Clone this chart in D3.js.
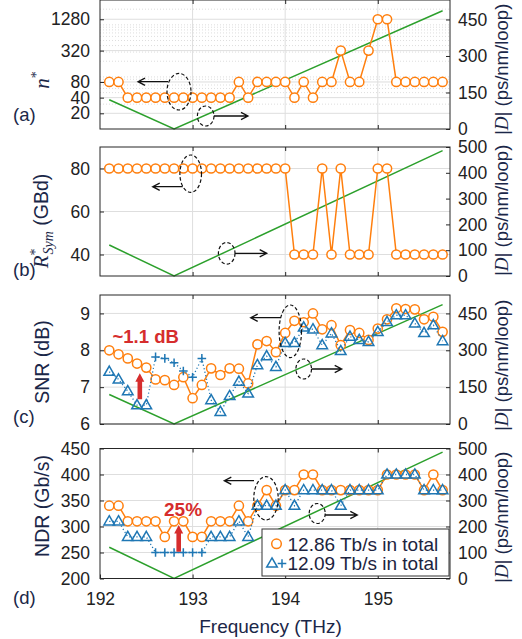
<!DOCTYPE html>
<html>
<head>
<meta charset="utf-8">
<script src="https://cdn.jsdelivr.net/npm/d3@7/dist/d3.min.js"></script>
<style>
  body { margin: 0; background: #fff; }
  svg { display: block; }
  text { font-family: Arial, "Liberation Sans", sans-serif; }
</style>
</head>
<body>
<div id="viz"></div>
<script>
// channel frequencies (THz)
const freq = [192.1, 192.2, 192.3, 192.4, 192.5, 192.6, 192.7, 192.8, 192.9, 193.0,
  193.1, 193.2, 193.3, 193.4, 193.5, 193.6, 193.7, 193.8, 193.9, 194.0,
  194.1, 194.2, 194.3, 194.4, 194.5, 194.6, 194.7, 194.8, 194.9, 195.0,
  195.1, 195.2, 195.3, 195.4, 195.5, 195.6, 195.7];

// (a) optimum n*
const nStar = [80, 80, 40, 40, 40, 40, 40, 40, 40, 40, 40, 40, 40, 40, 80, 40, 80, 80, 80, 80,
  40, 80, 40, 80, 80, 320, 80, 80, 320, 1280, 1280, 80, 80, 80, 80, 80, 80];

// (b) optimum symbol rate (GBd)
const rSym = [80, 80, 80, 80, 80, 80, 80, 80, 80, 80, 80, 80, 80, 80, 80, 80, 80, 80, 80, 80,
  40, 40, 40, 80, 40, 80, 40, 40, 40, 80, 80, 40, 40, 40, 40, 40, 40];

// (c) SNR (dB)
const snrOrange = [8.00, 7.89, 7.78, 7.64, 7.53, 7.21, 7.19, 7.06, 7.27, 6.70,
  7.06, 7.51, 7.33, 7.51, 7.50, 7.10, 8.16, 8.25, 7.95, 8.47,
  8.80, 8.76, 9.00, 8.57, 8.68, 8.14, 8.55, 8.47, 8.28, 8.59,
  8.84, 9.14, 9.12, 9.11, 8.84, 8.91, 8.50];
const snrBlue = [7.42, 7.21, 6.89, 6.51, 6.51, 7.82, 7.78, 7.66, 7.44, 7.27,
  7.78, 6.65, 6.33, 6.76, 7.15, 6.83, 7.60, 7.84, 7.55, 8.20,
  8.20, 8.62, 8.57, 8.14, 8.46, 7.98, 8.37, 8.28, 8.23, 8.50,
  8.77, 8.95, 8.95, 8.73, 8.47, 8.68, 8.25];

// (d) NDR (Gb/s)
const ndrOrange = [340, 340, 310, 310, 310, 310, 280, 310, 310, 280,
  280, 310, 310, 310, 340, 310, 340, 370, 340, 370,
  370, 400, 400, 370, 370, 370, 370, 370, 370, 370,
  400, 400, 400, 400, 370, 400, 370];
const ndrBlue = [310, 310, 280, 280, 280, 250, 250, 250, 250, 250,
  250, 280, 280, 280, 310, 280, 340, 340, 340, 370,
  340, 370, 370, 370, 370, 340, 370, 370, 370, 370,
  400, 400, 400, 400, 370, 370, 370];
// channels of the blue series drawn with "+" instead of triangles
const plusFreq = [192.6, 192.7, 192.8, 192.9, 193.0, 193.1];

// |D| (ps/nm/loop), right axes
const dispFreq = [192.1, 192.8, 195.7];
const dispVal = [120, 0, 486];

const xTicks = [192, 193, 194, 195];
const legendLabels = ["12.86 Tb/s in total", "12.09 Tb/s in total"];

const orange = "#ff7f0e", blue = "#1f77b4", green = "#2ca02c", red = "#d62d2d",
  navy = "#1b2748", ink = "#222", gridCol = "#dedede";
const left = 100, right = 450;

const svg = d3.select("#viz").append("svg")
    .attr("width", 522)
    .attr("height", 639);

const x = d3.scaleLinear().domain([192, 195.78]).range([left, right]);

const panels = [
  { id: "a", top: 0, bottom: 129, log: true, lDom: [10, 3000], lTicks: [20, 40, 80, 320, 1280],
    minor: [30, 50, 60, 70, 90, 100, 200, 300, 400, 500, 600, 700, 800, 900, 1000, 2000],
    rDom: [0, 530], rTicks: [0, 150, 300, 450], tag: 121, rEnd: 135 },
  { id: "b", top: 147, bottom: 276, lDom: [30, 90], lTicks: [40, 60, 80],
    rDom: [0, 500], rTicks: [0, 100, 200, 300, 400, 500], tag: 276, rEnd: 276 },
  { id: "c", top: 295, bottom: 424, lDom: [6, 9.5], lTicks: [6, 7, 8, 9],
    rDom: [0, 525], rTicks: [0, 150, 300, 450], tag: 423, rEnd: 431 },
  { id: "d", top: 448.5, bottom: 578.5, lDom: [200, 450], lTicks: [200, 250, 300, 350, 400, 450],
    rDom: [0, 500], rTicks: [0, 100, 200, 300, 400, 500], tag: 603.5, rEnd: 583 }
];

panels.forEach(p => {
  p.yL = (p.log ? d3.scaleLog() : d3.scaleLinear()).domain(p.lDom).range([p.bottom, p.top]);
  p.yR = d3.scaleLinear().domain(p.rDom).range([p.bottom, p.top]);
});
const P = {};
panels.forEach(p => P[p.id] = p);

// grid + dispersion line
panels.forEach(p => {
  const g = svg.append("g");
  if (p.minor) {
    g.selectAll(null).data(p.minor).enter().append("line")
      .attr("x1", left).attr("x2", right)
      .attr("y1", d => p.yL(d)).attr("y2", d => p.yL(d))
      .attr("stroke", "#d4d4d4").attr("stroke-width", 0.8).attr("stroke-dasharray", "1,2");
  }
  g.selectAll(null).data(p.lTicks).enter().append("line")
    .attr("x1", left).attr("x2", right)
    .attr("y1", d => p.yL(d)).attr("y2", d => p.yL(d))
    .attr("stroke", gridCol).attr("stroke-width", 1);
  g.selectAll(null).data([193, 194, 195]).enter().append("line")
    .attr("x1", d => x(d)).attr("x2", d => x(d))
    .attr("y1", p.top).attr("y2", p.bottom)
    .attr("stroke", gridCol).attr("stroke-width", 1);

  const dl = d3.line().x(d => x(d[0])).y(d => p.yR(d[1]));
  g.append("path").datum(d3.zip(dispFreq, dispVal))
    .attr("d", dl).attr("fill", "none")
    .attr("stroke", green).attr("stroke-width", 1.5);
});

// orange series: solid line, white circles
function orangeSeries(p, vals) {
  const pts = d3.zip(freq, vals);
  const ln = d3.line().x(d => x(d[0])).y(d => p.yL(d[1]));
  svg.append("path").datum(pts).attr("d", ln)
    .attr("fill", "none").attr("stroke", orange).attr("stroke-width", 1.5);
  svg.append("g").selectAll("circle").data(pts).enter().append("circle")
    .attr("cx", d => x(d[0])).attr("cy", d => p.yL(d[1])).attr("r", 4.6)
    .attr("fill", "#fff").attr("stroke", orange).attr("stroke-width", 1.5);
}

function triPath(cx, cy) {
  return `M${cx},${cy - 5.6}L${cx + 5.3},${cy + 3.6}L${cx - 5.3},${cy + 3.6}Z`;
}
function plusPath(cx, cy) {
  return `M${cx - 4.3},${cy}H${cx + 4.3}M${cx},${cy - 4.3}V${cy + 4.3}`;
}

// blue series: dotted line, triangles and "+" markers
function blueSeries(p, vals) {
  const pts = d3.zip(freq, vals);
  const ln = d3.line().x(d => x(d[0])).y(d => p.yL(d[1]));
  svg.append("path").datum(pts).attr("d", ln)
    .attr("fill", "none").attr("stroke", blue).attr("stroke-width", 1.3)
    .attr("stroke-dasharray", "1.2,2.4");
  const isPlus = d => plusFreq.some(f => Math.abs(f - d[0]) < 1e-6);
  svg.append("g").selectAll("path").data(pts).enter().append("path")
    .attr("d", d => isPlus(d) ? plusPath(x(d[0]), p.yL(d[1])) : triPath(x(d[0]), p.yL(d[1])))
    .attr("fill", "none").attr("stroke", blue).attr("stroke-width", 1.5);
}

orangeSeries(P.a, nStar);
orangeSeries(P.b, rSym);
orangeSeries(P.c, snrOrange);
blueSeries(P.c, snrBlue);
orangeSeries(P.d, ndrOrange);
blueSeries(P.d, ndrBlue);

// dashed ellipses with arrows pointing to the axis they belong to
const ellipses = [
  [179, 91.7, 12, 18.3], [205.7, 116, 8.3, 10],
  [190.7, 173.7, 10.8, 18.7], [226.7, 253.3, 8.3, 10.8],
  [290.3, 331.3, 11.2, 26.3], [303.7, 369, 7.8, 10],
  [266, 498.3, 12.2, 21.7], [317.2, 513.5, 8, 10]
];
const arrows = [
  [168, 138, 81.7], [214, 248, 116],
  [182.7, 152.7, 186.7], [235, 266.7, 253.3],
  [281, 250.7, 317.7], [311.5, 341.7, 369],
  [254, 224.3, 480.7], [325, 357.3, 515]
];
const ann = svg.append("g");
ann.selectAll("ellipse").data(ellipses).enter().append("ellipse")
  .attr("cx", d => d[0]).attr("cy", d => d[1]).attr("rx", d => d[2]).attr("ry", d => d[3])
  .attr("fill", "none").attr("stroke", "#111").attr("stroke-width", 1.2)
  .attr("stroke-dasharray", "3.5,2.2");
ann.selectAll(".arr").data(arrows).enter().append("path")
  .attr("d", d => {
    const s = Math.sign(d[1] - d[0]);
    return `M${d[0]},${d[2]}H${d[1]}M${d[1] - s * 7},${d[2] - 3.6}L${d[1]},${d[2]}L${d[1] - s * 7},${d[2] + 3.6}`;
  })
  .attr("fill", "none").attr("stroke", "#111").attr("stroke-width", 1.3);

// red annotations
function redArrow(px, y0, y1) {
  const hw = 4.5, sw = 2.3, hl = 8.5;
  svg.append("path")
    .attr("d", `M${px - sw},${y0}V${y1 + hl}H${px - hw}L${px},${y1}L${px + hw},${y1 + hl}H${px + sw}V${y0}Z`)
    .attr("fill", red);
}
redArrow(x(192.43), P.c.yL(6.67), P.c.yL(7.375));
redArrow(x(192.85), P.d.yL(251.5), P.d.yL(303));
svg.append("text").attr("x", 112.5).attr("y", 342.5).attr("font-size", 18.5)
  .attr("font-weight", "bold").attr("fill", red).text("~1.1 dB");
svg.append("text").attr("x", 164).attr("y", 516).attr("font-size", 19)
  .attr("font-weight", "bold").attr("fill", red).text("25%");

// axes and boxes
function styleAxis(g) {
  g.select(".domain").remove();
  g.selectAll("line").attr("stroke", "#262626");
  g.selectAll("text").attr("font-size", 17.5).attr("fill", ink)
    .attr("font-family", 'Arial, "Liberation Sans", sans-serif');
}

panels.forEach(p => {
  const g = svg.append("g");
  g.append("g").attr("transform", `translate(${left},0)`)
    .call(d3.axisLeft(p.yL).tickValues(p.lTicks).tickFormat(d3.format("d")).tickSize(-4).tickPadding(10))
    .call(styleAxis);
  g.append("g").attr("transform", `translate(${right},0)`)
    .call(d3.axisRight(p.yR).tickValues(p.rTicks).tickFormat(d3.format("d")).tickSize(-4).tickPadding(8))
    .call(styleAxis);
  const last = p.id === "d";
  g.append("g").attr("transform", `translate(0,${p.bottom})`)
    .call(d3.axisBottom(x).tickValues(last ? xTicks : [193, 194, 195])
      .tickFormat(last ? d3.format("d") : "").tickSize(-4).tickPadding(14))
    .call(styleAxis);
  g.append("g").attr("transform", `translate(0,${p.top})`)
    .call(d3.axisTop(x).tickValues([193, 194, 195]).tickFormat("").tickSize(-4))
    .call(styleAxis);
  g.append("rect").attr("x", left).attr("y", p.top)
    .attr("width", right - left).attr("height", p.bottom - p.top)
    .attr("fill", "none").attr("stroke", "#262626").attr("stroke-width", 1);

  // panel tag
  g.append("text").attr("x", 13).attr("y", p.tag).attr("font-size", 18.5)
    .attr("fill", navy).text(`(${p.id})`);

  // right axis title
  const rt = g.append("text").attr("transform", `translate(508,${p.rEnd}) rotate(-90)`)
    .attr("font-size", 18.5).attr("fill", navy);
  rt.append("tspan").text("|");
  rt.append("tspan").attr("font-style", "italic").attr("font-family", '"Liberation Serif", serif')
    .attr("font-size", 19).text("D");
  rt.append("tspan").text("| (ps/nm/loop)");
});

// left axis titles
const serif = '"Liberation Serif", "DejaVu Serif", serif';
const ta = svg.append("text").attr("transform", "translate(49,80) rotate(-90)")
  .attr("text-anchor", "middle").attr("fill", navy);
ta.append("tspan").attr("font-family", serif).attr("font-style", "italic").attr("font-size", 21).text("n");
ta.append("tspan").attr("font-family", serif).attr("font-size", 14).attr("dy", -8).text("*");

const tb = svg.append("text").attr("transform", "translate(48,221) rotate(-90)")
  .attr("text-anchor", "middle").attr("fill", navy);
tb.append("tspan").attr("font-family", serif).attr("font-style", "italic").attr("font-size", 21).text("R");
tb.append("tspan").attr("font-family", serif).attr("font-size", 14).attr("dy", -8).text("*");
tb.append("tspan").attr("font-family", serif).attr("font-style", "italic").attr("font-size", 14)
  .attr("dx", -6).attr("dy", 13).text("Sym");
tb.append("tspan").attr("font-size", 19.5).attr("dy", -5).text(" (GBd)");

svg.append("text").attr("transform", "translate(49,362) rotate(-90)")
  .attr("text-anchor", "middle").attr("font-size", 19.5).attr("fill", navy).text("SNR (dB)");
svg.append("text").attr("transform", "translate(49,506) rotate(-90)")
  .attr("text-anchor", "middle").attr("font-size", 19.5).attr("fill", navy).text("NDR (Gb/s)");

svg.append("text").attr("x", 270.5).attr("y", 633).attr("text-anchor", "middle")
  .attr("font-size", 19).attr("fill", navy).text("Frequency (THz)");

// legend
const lg = svg.append("g");
lg.append("rect").attr("x", 262).attr("y", 529).attr("width", 187).attr("height", 47)
  .attr("fill", "#fff").attr("stroke", "#333").attr("stroke-width", 1);
lg.append("circle").attr("cx", 276.5).attr("cy", 543.8).attr("r", 4.8)
  .attr("fill", "#fff").attr("stroke", orange).attr("stroke-width", 1.5);
lg.append("path").attr("d", triPath(272, 563.5)).attr("fill", "none").attr("stroke", blue).attr("stroke-width", 1.5);
lg.append("path").attr("d", plusPath(282, 563.5)).attr("fill", "none").attr("stroke", blue).attr("stroke-width", 1.5);
lg.selectAll(".lt").data(legendLabels).enter().append("text")
  .attr("x", 287.5).attr("y", (d, i) => 550.5 + i * 19.5)
  .attr("font-size", 19).attr("fill", "#1c2440").text(d => d);
</script>
</body>
</html>
